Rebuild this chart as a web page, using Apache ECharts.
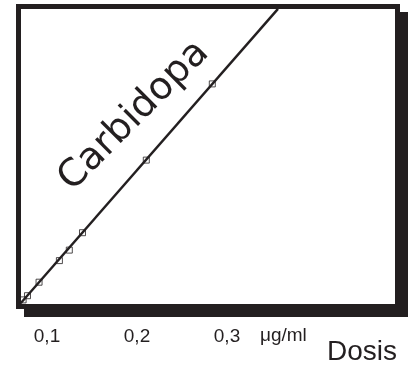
<!DOCTYPE html>
<html>
<head>
<meta charset="utf-8">
<script src="https://cdn.jsdelivr.net/npm/echarts@6/dist/echarts.min.js"></script>
<style>
html,body{margin:0;padding:0;background:#fff;}
#chart{width:416px;height:370px;}
</style>
</head>
<body>
<div id="chart"></div>
<script>
// Data
var doseValues = [0.001, 0.005, 0.0155, 0.034, 0.043, 0.055, 0.113, 0.173];
var responseValues = [2.2, 3.6, 8.1, 15.3, 18.8, 24.6, 48.8, 74.2];
var fitLineX = [-0.0012, 0.2327];
var fitLineY = [1.07, 99.2];
var tickValues = [0.1, 0.2, 0.3];
var tickLabelValues = [0.1, 0.2, 0.3];
var tickLabels = ['0,1', '0,2', '0,3'];
var seriesName = 'Carbidopa';
var unitLabel = '\u03bcg/ml';
var axisTitle = 'Dosis';

var INK = '#231f20';
var FONT = 'Liberation Sans, Arial, sans-serif';

var scatterData = doseValues.map(function (x, i) { return [x, responseValues[i]]; });
var lineData = fitLineX.map(function (x, i) { return [x, fitLineY[i]]; });

var chart = echarts.init(document.getElementById('chart'), null, {renderer: 'canvas'});
chart.setOption({
  animation: false,
  backgroundColor: '#fff',
  grid: {
    show: true,
    left: 18.5, top: 6.5, width: 379, height: 300,
    borderWidth: 5, borderColor: INK,
    backgroundColor: '#fff'
  },
  xAxis: [
    {
      type: 'value', min: -0.00318, max: 0.34136,
      offset: 10.5,
      axisLine: {show: false},
      splitLine: {show: false},
      axisLabel: {show: false},
      axisTick: {show: true, customValues: tickValues, length: 3, lineStyle: {color: INK, width: 3}}
    },
    {
      type: 'value', min: 0.068333, max: 0.489444,
      position: 'bottom',
      axisLine: {show: false},
      splitLine: {show: false},
      axisTick: {show: false},
      axisLabel: {
        show: true, customValues: tickLabelValues, margin: 21,
        color: INK, fontSize: 19, fontFamily: FONT,
        formatter: function (v) {
          var i = tickLabelValues.indexOf(v);
          return i >= 0 ? tickLabels[i] : '';
        }
      }
    }
  ],
  yAxis: {
    type: 'value', min: 0, max: 100, show: false
  },
  graphic: [
    {type: 'rect', z: -10, shape: {x: 24, y: 12, width: 384, height: 305}, style: {fill: INK}},
    {type: 'text', x: 260, y: 326, style: {text: unitLabel, fill: INK, font: '19px ' + FONT}},
    {type: 'text', x: 327, y: 338, style: {text: axisTitle, fill: INK, font: '28px ' + FONT}},
    {type: 'text', x: 134, y: 116, rotation: Math.PI / 4,
     style: {text: seriesName, fill: INK, font: '38px DejaVu Sans, sans-serif', align: 'center', verticalAlign: 'middle'}}
  ],
  series: [
    {
      type: 'line', xAxisIndex: 0, data: lineData, symbol: 'none',
      lineStyle: {color: INK, width: 2.4}, silent: true
    },
    {
      type: 'scatter', xAxisIndex: 0, data: scatterData, symbol: 'rect', symbolSize: 6,
      itemStyle: {color: 'rgba(0,0,0,0)', borderColor: INK, borderWidth: 1}, silent: true
    }
  ]
});
</script>
</body>
</html>
